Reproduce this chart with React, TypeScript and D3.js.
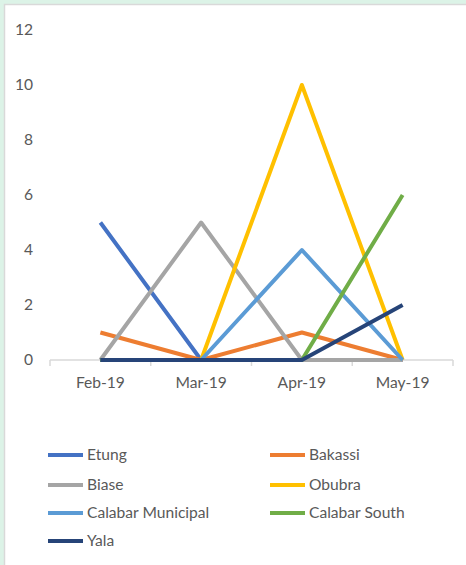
import React from "react";
import * as d3 from "d3";

const categories = ["Feb-19", "Mar-19", "Apr-19", "May-19"];
const seriesNames = ["Etung", "Bakassi", "Biase", "Obubra", "Calabar Municipal", "Calabar South", "Yala"];
const etung = [5, 0, 0, 0];
const bakassi = [1, 0, 1, 0];
const biase = [0, 5, 0, 0];
const obubra = [0, 0, 10, 0];
const calabarMunicipal = [0, 0, 4, 0];
const calabarSouth = [0, 0, 0, 6];
const yala = [0, 0, 0, 2];
const seriesColors = ["#4472C4", "#ED7D31", "#A5A5A5", "#FFC000", "#5B9BD5", "#70AD47", "#264478"];
const yTicks = [0, 2, 4, 6, 8, 10, 12];

const seriesValues = [etung, bakassi, biase, obubra, calabarMunicipal, calabarSouth, yala];

export default function App() {
  const W = 466, H = 565;
  const x = d3.scaleBand().domain(categories).range([50, 453]);
  const y = d3.scaleLinear().domain([0, 12]).range([360, 30]);
  const line = d3.line<number>()
    .x((_, i) => (x(categories[i]) as number) + x.bandwidth() / 2)
    .y((v) => y(v));
  const font = "Lato, 'Open Sans', sans-serif";
  const textColor = "#595959";
  const fs = 15.6;
  const legendRows = [455, 485, 513, 541];
  return (
    <svg width={W} height={H} style={{ position: "absolute", left: 0, top: 0 }}>
      <rect x={0} y={0} width={W} height={H} fill="#DCF3E7" />
      <rect x={4.5} y={4.5} width={W} height={H} fill="#FFFFFF" stroke="#D9D9D9" strokeWidth={1.5} />
      {yTicks.map((t) => (
        <text key={t} x={33} y={y(t)} dy="0.35em" textAnchor="end" fontFamily={font} fontSize={fs} fill={textColor}>{t}</text>
      ))}
      <line x1={50} x2={453} y1={360} y2={360} stroke="#D9D9D9" strokeWidth={1.5} />
      {[...categories.map((c) => x(c) as number), 453].map((px, i) => (
        <line key={i} x1={px} x2={px} y1={360} y2={366} stroke="#D9D9D9" strokeWidth={1.5} />
      ))}
      {categories.map((c) => (
        <text key={c} x={(x(c) as number) + x.bandwidth() / 2} y={383} dy="0.35em" textAnchor="middle" fontFamily={font} fontSize={fs} fill={textColor}>{c}</text>
      ))}
      {seriesValues.map((vals, i) => (
        <path key={seriesNames[i]} d={line(vals) as string} fill="none" stroke={seriesColors[i]} strokeWidth={4} strokeLinejoin="round" strokeLinecap="butt" />
      ))}
      {seriesNames.map((n, i) => {
        const col = i % 2;
        const row = Math.floor(i / 2);
        const lx = col === 0 ? 48 : 270;
        const ly = legendRows[row];
        return (
          <g key={n}>
            <line x1={lx} x2={lx + 35} y1={ly} y2={ly} stroke={seriesColors[i]} strokeWidth={4} />
            <text x={lx + 39} y={ly} dy="0.35em" fontFamily={font} fontSize={fs} fill={textColor}>{n}</text>
          </g>
        );
      })}
    </svg>
  );
}
